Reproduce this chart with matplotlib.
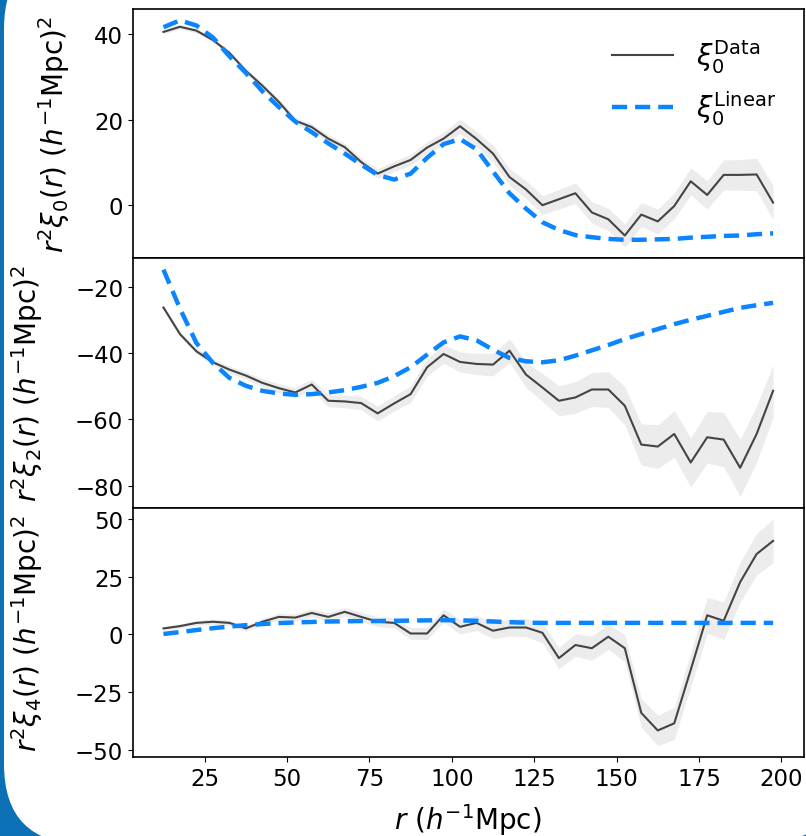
import numpy as np
import matplotlib
matplotlib.use('Agg')
from matplotlib import pyplot as plt
from matplotlib.patches import FancyBboxPatch

r = [12.5, 17.5, 22.5, 27.5, 32.5, 37.5, 42.5, 47.5, 52.5, 57.5,
     62.5, 67.5, 72.5, 77.5, 82.5, 87.5, 92.5, 97.5, 102.5, 107.5,
     112.5, 117.5, 122.5, 127.5, 132.5, 137.5, 142.5, 147.5, 152.5, 157.5,
     162.5, 167.5, 172.5, 177.5, 182.5, 187.5, 192.5, 197.5]

# monopole
xi0_data = [40.6, 41.8, 40.9, 38.7, 35.7, 31.5, 28.0, 24.2, 19.8, 18.3,
            15.6, 13.6, 10.1, 7.4, 9.1, 10.6, 13.5, 15.6, 18.5, 15.5,
            12.1, 6.6, 3.7, 0.0, 1.4, 2.8, -1.7, -3.3, -7.1, -2.2,
            -3.8, -0.2, 5.6, 2.4, 7.1, 7.1, 7.2, 0.6]
xi0_err = [0.5, 0.5, 0.5, 0.5, 0.6, 0.6, 0.7, 0.7, 0.8, 0.8,
           0.9, 0.9, 1.0, 1.1, 1.2, 1.3, 1.4, 1.5, 1.7, 1.8,
           1.9, 2.0, 2.1, 2.2, 2.3, 2.4, 2.5, 2.6, 2.7, 2.8,
           2.9, 3.0, 3.2, 3.3, 3.5, 3.6, 3.8, 3.9]
xi0_lin = [41.7, 43.3, 42.1, 39.3, 34.9, 31.0, 26.7, 23.0, 19.6, 17.1,
           14.5, 12.1, 9.5, 7.1, 6.0, 7.4, 11.1, 14.3, 15.5, 13.1,
           7.9, 2.8, -0.8, -4.0, -5.8, -7.0, -7.5, -7.9, -8.1, -8.1,
           -8.0, -7.9, -7.6, -7.4, -7.2, -7.1, -6.8, -6.6]

# quadrupole
xi2_data = [-26.3, -34.3, -39.5, -42.8, -45.0, -46.8, -49.0, -50.6, -51.9, -49.5,
            -54.4, -54.6, -55.1, -58.2, -55.2, -52.4, -44.3, -40.3, -42.7, -43.3,
            -43.5, -39.3, -46.5, -50.4, -54.4, -53.4, -51.0, -51.0, -55.9, -67.6,
            -68.2, -64.4, -73.0, -65.4, -66.1, -74.6, -64.4, -51.4]
xi2_err = [0.6, 0.7, 0.8, 0.9, 1.0, 1.1, 1.2, 1.3, 1.5, 1.6,
           1.8, 1.9, 2.0, 2.2, 2.3, 2.5, 2.6, 2.8, 3.0, 3.2,
           3.4, 3.6, 3.9, 4.2, 4.5, 4.8, 5.1, 5.4, 5.8, 6.2,
           6.6, 7.0, 7.4, 7.8, 8.2, 8.6, 8.5, 7.8]
xi2_lin = [-14.9, -26.6, -37.0, -43.0, -47.5, -49.9, -51.4, -52.2, -52.6, -52.4,
           -51.9, -51.2, -50.2, -49.0, -47.0, -44.3, -40.5, -36.8, -35.0, -36.2,
           -39.0, -41.5, -42.5, -42.8, -42.2, -40.8, -39.2, -37.6, -35.8, -34.3,
           -32.8, -31.3, -30.0, -28.8, -27.6, -26.4, -25.6, -24.9]

# hexadecapole
xi4_data = [2.6, 3.6, 5.0, 5.5, 5.0, 2.6, 5.5, 7.6, 7.3, 9.3,
            7.6, 9.8, 7.6, 5.5, 5.0, 0.4, 0.4, 8.3, 3.3, 5.0,
            1.6, 3.0, 3.0, 0.7, -10.3, -4.6, -6.0, -1.0, -6.0, -34.1,
            -41.7, -38.6, -15.4, 8.3, 5.9, 22.7, 34.9, 40.6]
xi4_err = [0.8, 0.9, 1.0, 1.1, 1.2, 1.3, 1.4, 1.5, 1.6, 1.7,
           1.8, 1.9, 2.0, 2.1, 2.3, 2.5, 2.7, 2.9, 3.1, 3.3,
           3.5, 3.7, 4.0, 4.3, 4.6, 4.9, 5.2, 5.5, 5.8, 6.2,
           6.6, 7.0, 7.4, 7.8, 8.2, 8.6, 9.0, 9.5]
xi4_lin = [0.2, 1.0, 1.9, 2.7, 3.4, 4.0, 4.5, 4.9, 5.2, 5.4,
           5.6, 5.7, 5.8, 5.8, 5.9, 6.0, 6.1, 6.2, 6.1, 5.9,
           5.6, 5.3, 5.1, 5.0, 5.0, 5.0, 5.0, 5.0, 5.0, 5.0,
           5.0, 5.0, 5.0, 5.0, 5.0, 5.0, 5.0, 5.0]

ylabels = [r'$r^2\xi_0(r)\ (h^{-1}{\rm Mpc})^2$',
           r'$r^2\xi_2(r)\ (h^{-1}{\rm Mpc})^2$',
           r'$r^2\xi_4(r)\ (h^{-1}{\rm Mpc})^2$']
label_x = [-0.091, -0.131, -0.131]

fig = plt.figure(figsize=(8.06, 8.37), dpi=100)
fig.patch.set_facecolor('#0b70b6')
# white slide card behind the plot
card = FancyBboxPatch((0.04, -0.08), 8.36, 8.95,
                      boxstyle='round,pad=0,rounding_size=0.8',
                      transform=fig.dpi_scale_trans, facecolor='white',
                      edgecolor='none', zorder=-10)
fig.patches.append(card)

gs = fig.add_gridspec(3, 1, left=0.165, right=0.997, top=0.988, bottom=0.0944, hspace=0)
axes = [fig.add_subplot(gs[i]) for i in range(3)]
for ax in axes[1:]:
    ax.sharex(axes[0])

panels = [(xi0_data, xi0_err, xi0_lin), (xi2_data, xi2_err, xi2_lin), (xi4_data, xi4_err, xi4_lin)]
for i, (ax, (d, e, l)) in enumerate(zip(axes, panels)):
    d = np.array(d)
    e = np.array(e)
    ax.fill_between(r, d - e, d + e, color='#ececec', lw=0)
    ax.plot(r, d, color='#444444', lw=1.5, label=r'$\xi_0^{\rm Data}$')
    ax.plot(r, l, color='#0a84ff', lw=3.2, ls=(0, (3.4, 1.8)), label=r'$\xi_0^{\rm Linear}$')
    ax.set_ylabel(ylabels[i], fontsize=20)
    ax.yaxis.set_label_coords(label_x[i], 0.5)
    ax.tick_params(labelsize=16.5)
    for s in ax.spines.values():
        s.set_linewidth(1.2)
    if i < 2:
        ax.tick_params(bottom=False, labelbottom=False)

axes[0].set_yticks([0, 20, 40])
axes[1].set_yticks([-80, -60, -40, -20])
axes[2].set_yticks([-50, -25, 0, 25, 50])
axes[2].set_xticks([25, 50, 75, 100, 125, 150, 175, 200])
axes[2].set_xlabel(r'$r\ (h^{-1}{\rm Mpc})$', fontsize=20, labelpad=8)

axes[0].legend(loc='upper right', frameon=False, fontsize=20, handlelength=2.2,
               borderaxespad=0.6, labelspacing=0.5)

fig.savefig('out.png', dpi=100, facecolor=fig.get_facecolor())
